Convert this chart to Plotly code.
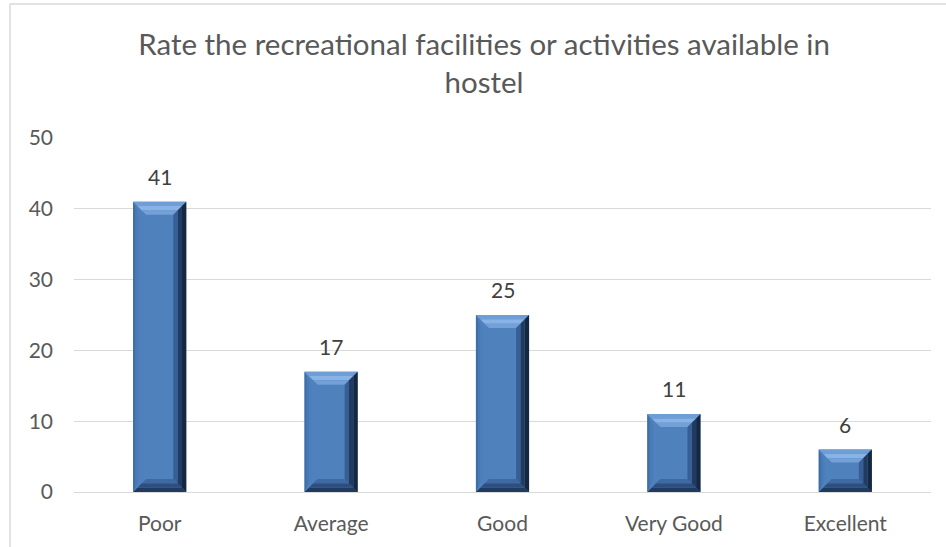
import plotly.graph_objects as go

# Survey responses
categories = ["Poor", "Average", "Good", "Very Good", "Excellent"]
counts = [41, 17, 25, 11, 6]
y_ticks = [0, 10, 20, 30, 40, 50]

W, H = 946, 547
L, R, T, B = 74, 15, 138, 55
plot_w = W - L - R
plot_h = H - T - B
y_max = 50

bar_width = 0.31
# bevel thickness expressed in axis units (about 13 px)
bev_x = 13 / (plot_w / len(categories))
bev_y = 13 / (plot_h / y_max)

FACE = "#4F81BD"

fig = go.Figure()
fig.add_trace(go.Bar(
    x=categories,
    y=counts,
    width=bar_width,
    marker=dict(color=FACE, line=dict(width=0)),
    hoverinfo="x+y",
))


def poly(pts, color):
    path = "M " + " L ".join(f"{x},{y}" for x, y in pts) + " Z"
    fig.add_shape(type="path", path=path, xref="x", yref="y",
                  fillcolor=color, line=dict(width=0), layer="above")


# bevelled edges drawn from each bar's value
for i, v in enumerate(counts):
    x0, x1 = i - bar_width / 2, i + bar_width / 2
    y0, y1 = 0, v
    by = min(bev_y, v / 3)
    bx = bev_x
    steps = 3
    top_cols = ["#6F9DD6", "#88B3E6", "#72A0D7"]
    right_cols = ["#152840", "#213B60", "#385F95"]
    bot_cols = ["#203B60", "#2C4F80", "#3E69A1"]
    left_cols = ["#3E6EA8", "#4679B6", "#4C7EBA"]
    for s in range(steps):
        f0, f1 = s / steps, (s + 1) / steps
        # top
        poly([(x0 + bx * f0, y1 - by * f0), (x1 - bx * f0, y1 - by * f0),
              (x1 - bx * f1, y1 - by * f1), (x0 + bx * f1, y1 - by * f1)], top_cols[s])
        # bottom
        poly([(x0 + bx * f0, y0 + by * f0), (x1 - bx * f0, y0 + by * f0),
              (x1 - bx * f1, y0 + by * f1), (x0 + bx * f1, y0 + by * f1)], bot_cols[s])
        # left (thin)
        lx = bx * 0.5
        poly([(x0 + lx * f0, y1 - by * f0), (x0 + lx * f1, y1 - by * f1),
              (x0 + lx * f1, y0 + by * f1), (x0 + lx * f0, y0 + by * f0)], left_cols[s])
        # right
        poly([(x1 - bx * f0, y1 - by * f0), (x1 - bx * f1, y1 - by * f1),
              (x1 - bx * f1, y0 + by * f1), (x1 - bx * f0, y0 + by * f0)], right_cols[s])

    fig.add_annotation(x=categories[i], y=v, text=str(v), showarrow=False,
                       yanchor="bottom", yshift=11,
                       font=dict(size=21, color="#404040", family="Lato"))

# chart outline
px = lambda p: (p - L) / plot_w
py = lambda p: 1 - (p - T) / plot_h
for x0, y0, x1, y1 in [(px(10), py(4), px(946), py(4)),
                       (px(10), py(4), px(10), py(547))]:
    fig.add_shape(type="line", xref="paper", yref="paper",
                  x0=x0, y0=y0, x1=x1, y1=y1,
                  line=dict(color="#D9D9D9", width=1.5))

fig.update_layout(
    width=W, height=H,
    margin=dict(l=L, r=R, t=T, b=B),
    paper_bgcolor="white", plot_bgcolor="white",
    showlegend=False,
    font=dict(family="Lato", color="#595959"),
    title=dict(
        text="Rate the recreational facilities or activities available in<br>hostel",
        x=px(484), xanchor="center", xref="paper",
        y=1 - 55 / H, yanchor="top",
        font=dict(size=29.5, color="#595959", family="Lato"),
    ),
    bargap=0.69,
)
fig.update_xaxes(
    type="category", showgrid=False, showline=True,
    linecolor="#D9D9D9", linewidth=1, ticks="",
    tickfont=dict(size=21, color="#595959"), ticklabelstandoff=13,
)
fig.update_yaxes(
    range=[0, y_max], tickvals=y_ticks, showgrid=True,
    gridcolor="#D9D9D9", gridwidth=1, zeroline=False, showline=False,
    tickfont=dict(size=21, color="#595959"), ticklabelstandoff=20,
)

fig.write_html("out.html")
